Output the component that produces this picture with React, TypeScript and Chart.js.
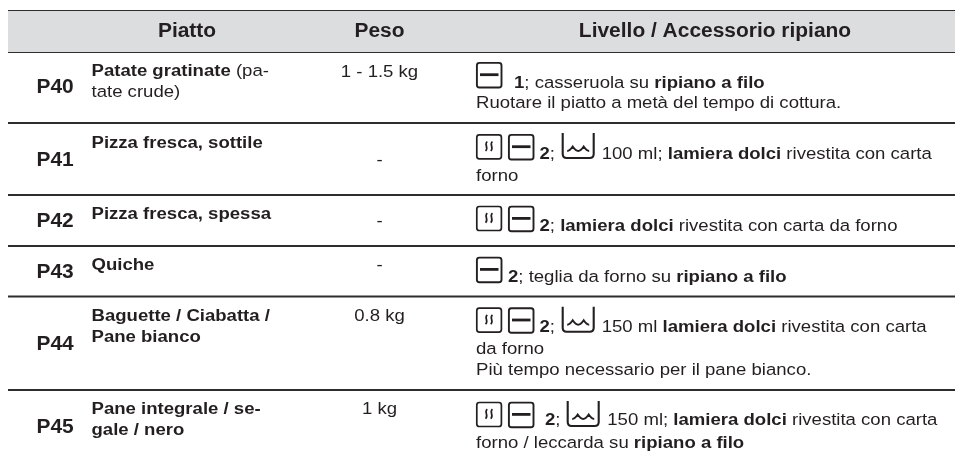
import React, { useEffect, useRef } from "react";
import { Chart, registerables } from "chart.js";

Chart.register(...registerables);

// ---- content ----
const headers = ["Piatto", "Peso", "Livello / Accessorio ripiano"];
const codes = ["P40", "P41", "P42", "P43", "P44", "P45"];
const dishLines = [
  "**Patate gratinate** (pa-",
  "tate crude)",
  "**Pizza fresca, sottile**",
  "**Pizza fresca, spessa**",
  "**Quiche**",
  "**Baguette / Ciabatta /**",
  "**Pane bianco**",
  "**Pane integrale / se-**",
  "**gale / nero**",
];
const weights = ["1 - 1.5 kg", "-", "-", "-", "0.8 kg", "1 kg"];
const levelLines = [
  "**1**; casseruola su **ripiano a filo**",
  "Ruotare il piatto a metà del tempo di cottura.",
  "**2**;",
  "100 ml; **lamiera dolci** rivestita con carta",
  "forno",
  "**2**; **lamiera dolci** rivestita con carta da forno",
  "**2**; teglia da forno su **ripiano a filo**",
  "**2**;",
  "150 ml **lamiera dolci** rivestita con carta",
  "da forno",
  "Più tempo necessario per il pane bianco.",
  "**2**;",
  "150 ml; **lamiera dolci** rivestita con carta",
  "forno / leccarda su **ripiano a filo**",
];

// ---- layout, in the axis units (1 unit = 1 px) ----
const ruleYs = [11, 52, 123, 195, 246, 296.5, 390];
const ruleXs = [8, 955];
const headerCentres = [187, 379.5, 715];
const headerBaseline = 37;
const codeX = 36.5;
const codeBaselines = [93.3, 165.5, 226.5, 277.7, 349.7, 432.5];
const dishX = 91.5;
const dishBaselines = [76, 96.7, 147.7, 219.3, 269.7, 321, 342, 414.3, 435.3];
const weightCentre = 379.5;
const weightBaselines = [77, 164.5, 225.5, 270, 321, 414.3];
const levelXs = [514, 476, 539.5, 601.7, 476, 539.5, 508, 539.5, 601.7, 476, 476, 545, 607.3, 476];
const levelBaselines = [87.5, 108.3, 159, 159, 180.7, 231, 282, 332, 332, 353.7, 375.3, 425.3, 425.3, 447.7];
const steamBoxes = [
  [476, 134],
  [476, 205.7],
  [476, 307.3],
  [476, 401.7],
];
const shelfBoxes = [
  [476, 62],
  [508, 134],
  [508, 205.7],
  [476, 256.7],
  [508, 307.3],
  [508, 401.7],
];
const waterBoxes = [
  [561.7, 133],
  [561.7, 306.7],
  [566.7, 401],
];

const INK = "#231f20";
const BAND = "#dcddde";
const FAMILY = '"Liberation Sans", Arial, sans-serif';
const STRETCH = 1.08;
const BODY = 17.2;
const LARGE = 19.4;

function drawRich(ctx: CanvasRenderingContext2D, src: string, x: number, y: number, size: number) {
  const parts = src.split("**");
  let cx = x;
  parts.forEach((part, i) => {
    if (!part) return;
    ctx.font = `${i % 2 ? "bold " : ""}${size}px ${FAMILY}`;
    ctx.save();
    ctx.translate(cx, y);
    ctx.scale(STRETCH, 1);
    ctx.fillText(part, 0, 0);
    ctx.restore();
    cx += ctx.measureText(part).width * STRETCH;
  });
}

function drawCentred(ctx: CanvasRenderingContext2D, src: string, cx: number, y: number, size: number, bold: boolean) {
  ctx.font = `${bold ? "bold " : ""}${size}px ${FAMILY}`;
  const w = ctx.measureText(src).width * STRETCH;
  ctx.save();
  ctx.translate(cx - w / 2, y);
  ctx.scale(STRETCH, 1);
  ctx.fillText(src, 0, 0);
  ctx.restore();
}

function box(ctx: CanvasRenderingContext2D, x: number, y: number, w: number, h: number) {
  ctx.beginPath();
  ctx.roundRect(x, y, w, h, 2.5);
  ctx.stroke();
}

const tablePlugin = {
  id: "tableText",
  afterDatasetsDraw(chart: any) {
    const { ctx, scales } = chart;
    const X = (v: number) => scales.x.getPixelForValue(v);
    const Y = (v: number) => scales.y.getPixelForValue(v);
    ctx.save();
    ctx.fillStyle = INK;
    ctx.strokeStyle = INK;
    ctx.textBaseline = "alphabetic";
    ctx.textAlign = "left";

    headers.forEach((h, i) => drawCentred(ctx, h, X(headerCentres[i]), Y(headerBaseline), LARGE, true));
    codes.forEach((c, i) => drawRich(ctx, `**${c}**`, X(codeX), Y(codeBaselines[i]), LARGE));
    dishLines.forEach((l, i) => drawRich(ctx, l, X(dishX), Y(dishBaselines[i]), BODY));
    weights.forEach((w, i) => drawCentred(ctx, w, X(weightCentre), Y(weightBaselines[i]), BODY, false));
    levelLines.forEach((l, i) => drawRich(ctx, l, X(levelXs[i]), Y(levelBaselines[i]), BODY));

    // steam function icon
    steamBoxes.forEach(([bx, by]) => {
      const x = X(bx);
      const y = Y(by);
      ctx.lineWidth = 1.7;
      box(ctx, x + 0.8, y + 0.8, 24.6, 24);
      ctx.lineWidth = 1.7;
      [10, 15.2].forEach((dx) => {
        ctx.beginPath();
        ctx.moveTo(x + dx + 1.2, y + 7.5);
        ctx.bezierCurveTo(x + dx - 2.4, y + 11, x + dx + 3.2, y + 13, x + dx - 0.4, y + 17);
        ctx.stroke();
      });
    });

    // shelf level icon
    shelfBoxes.forEach(([bx, by]) => {
      const x = X(bx);
      const y = Y(by);
      ctx.lineWidth = 1.9;
      box(ctx, x + 0.9, y + 0.9, 24.6, 24.6);
      ctx.lineWidth = 2.8;
      ctx.beginPath();
      ctx.moveTo(x + 4, y + 12.7);
      ctx.lineTo(x + 22.5, y + 12.7);
      ctx.stroke();
    });

    // water tray icon
    waterBoxes.forEach(([bx, by]) => {
      const x = X(bx);
      const y = Y(by);
      ctx.lineWidth = 2.1;
      ctx.beginPath();
      ctx.moveTo(x + 1, y);
      ctx.lineTo(x + 1, y + 21);
      ctx.quadraticCurveTo(x + 1, y + 25, x + 5, y + 25);
      ctx.lineTo(x + 28, y + 25);
      ctx.quadraticCurveTo(x + 32, y + 25, x + 32, y + 21);
      ctx.lineTo(x + 32, y);
      ctx.stroke();
      ctx.lineWidth = 1.9;
      ctx.beginPath();
      ctx.moveTo(x + 5.5, y + 18);
      ctx.quadraticCurveTo(x + 8, y + 18, x + 11, y + 13.5);
      ctx.quadraticCurveTo(x + 14, y + 18, x + 16.5, y + 18);
      ctx.quadraticCurveTo(x + 19, y + 18, x + 22, y + 13.5);
      ctx.quadraticCurveTo(x + 25, y + 18, x + 27.5, y + 18);
      ctx.stroke();
    });
    ctx.restore();
  },
};

export default function App() {
  const ref = useRef<HTMLCanvasElement>(null);
  useEffect(() => {
    if (!ref.current) return;
    const rules = ruleYs.map((y) => ({
      data: ruleXs.map((x) => ({ x, y })),
      showLine: true,
      borderColor: "#2e2c2d",
      borderWidth: 2,
      pointRadius: 0,
      fill: false,
    }));
    const band = {
      data: ruleXs.map((x) => ({ x, y: ruleYs[1] })),
      showLine: true,
      borderWidth: 0,
      borderColor: BAND,
      backgroundColor: BAND,
      pointRadius: 0,
      fill: { value: ruleYs[0] },
    };
    const chart = new Chart(ref.current, {
      type: "scatter",
      data: { datasets: [band, ...rules] as any },
      options: {
        animation: false,
        responsive: false,
        layout: { padding: 0 },
        plugins: { legend: { display: false }, tooltip: { enabled: false }, title: { display: false } },
        scales: {
          x: { type: "linear", min: 0, max: 955, display: false },
          y: { type: "linear", min: 0, max: 457, reverse: true, display: false },
        },
      },
      plugins: [tablePlugin],
    });
    return () => chart.destroy();
  }, []);
  return (
    <div style={{ position: "absolute", left: 0, top: 0, width: 955, height: 457, background: "#fff" }}>
      <canvas ref={ref} width={955} height={457} style={{ display: "block" }} />
    </div>
  );
}
